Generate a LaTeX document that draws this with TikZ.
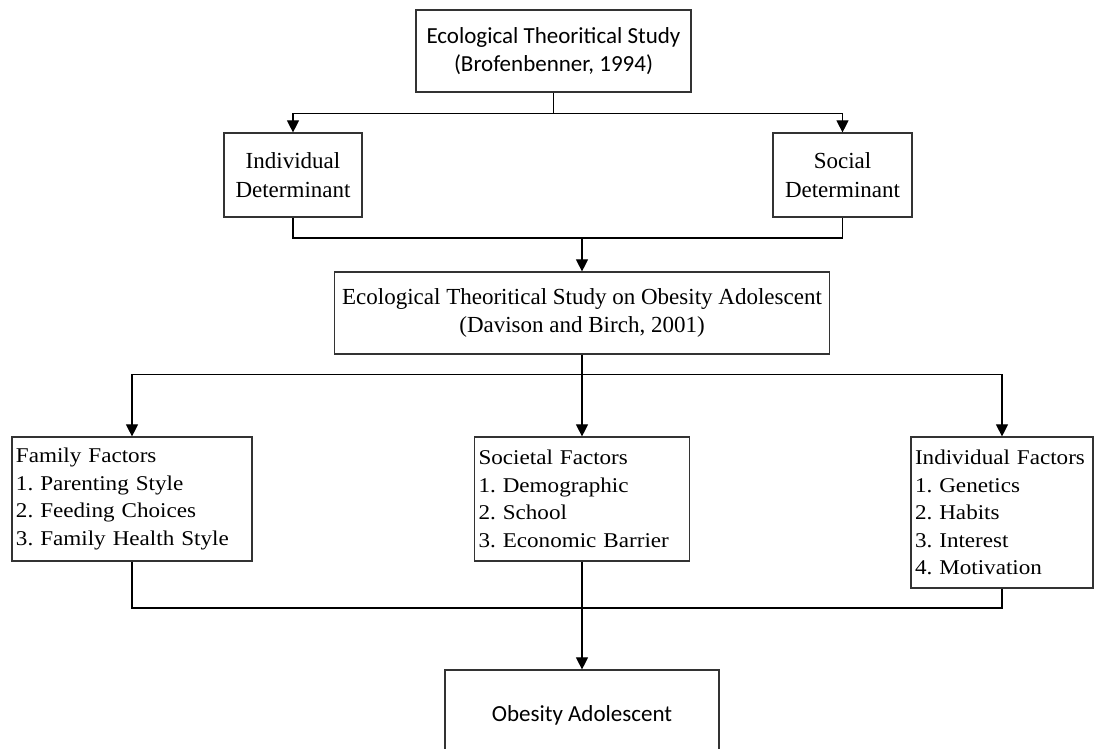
\documentclass[tikz,border=0pt]{standalone}
\usepackage{fontspec}
\setmainfont{Liberation Serif}
\newfontfamily\calfont{Carlito}
\newfontfamily\facfont{Liberation Serif}[FakeStretch=1.1]
\usetikzlibrary{arrows.meta}
\frenchspacing
\begin{document}
\begin{tikzpicture}[x=1pt,y=-1pt,
  boxbase/.style={draw=black!80, line width=1.2pt, fill=white, inner sep=0pt},
  cbox/.style={boxbase, align=center, font=\calfont\fontsize{23}{28}\selectfont},
  tbox/.style={boxbase, align=center, font=\fontsize{23}{28.5}\selectfont},
  fbox/.style={boxbase, align=left, inner xsep=4pt, font=\facfont\fontsize{21}{27.5}\selectfont},
  conn/.style={line width=1.1pt, black},
  arr/.style={conn, -{Triangle[width=12pt,length=12pt]}}]
\useasboundingbox (0,0) rectangle (1094,748);
\clip (0,0) rectangle (1094,748);
\fill[white] (0,0) rectangle (1094,748);

\node[cbox, minimum width=275, minimum height=82] (top) at (553.5,51)
  {Ecological Theoritical Study\\(Brofenbenner, 1994)};
\node[tbox, minimum width=138, minimum height=84] (idet) at (293,175)
  {Individual\\Determinant};
\node[tbox, minimum width=139, minimum height=84] (sdet) at (842.5,175)
  {Social\\Determinant};
\node[tbox, minimum width=495, minimum height=82] (mid) at (582,313)
  {Ecological Theoritical Study on Obesity Adolescent\\(Davison and Birch, 2001)};
\node[fbox, text width=232, minimum height=124] (fam) at (132,499)
  {Family Factors\\1. Parenting Style\\2. Feeding Choices\\3. Family Health Style};
\node[fbox, text width=207, minimum height=124] (soc) at (582,499)
  {Societal Factors\\1. Demographic\\2. School\\3. Economic Barrier};
\node[fbox, text width=174, minimum height=151] (indf) at (1002,512.5)
  {Individual Factors\\1. Genetics\\2. Habits\\3. Interest\\4. Motivation};
\node[cbox, minimum width=274, minimum height=90] (out) at (582,715)
  {Obesity Adolescent};

% top level split
\path (top.south) ++(0,21) coordinate (j0);
\draw[conn] (top.south) -- (j0);
\draw[arr] (j0) -| (idet.north);
\draw[arr] (j0) -| (sdet.north);

% merge determinants
\coordinate (j1) at (582,238);
\draw[conn] (idet.south) |- (j1);
\draw[conn] (sdet.south) |- (j1);
\draw[arr] (j1) -- (mid.north);

% split to factors
\path (mid.south) ++(0,20) coordinate (j2);
\draw[arr] (mid.south) -- (soc.north);
\draw[arr] (j2) -| (fam.north);
\draw[arr] (j2) -| (indf.north);

% merge factors
\coordinate (j3) at (582,608);
\draw[conn] (fam.south) |- (j3);
\draw[conn] (indf.south) |- (j3);
\draw[arr] (soc.south) -- (out.north);
\end{tikzpicture}
\end{document}
